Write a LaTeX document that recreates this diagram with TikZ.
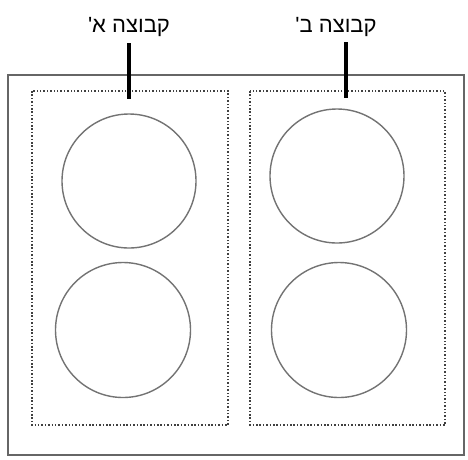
\documentclass[tikz,border=0pt]{standalone}
\usepackage{fontspec}
\TeXXeTstate=1
\newfontfamily\hebfont[Script=Hebrew]{Liberation Sans}
\begin{document}
\begin{tikzpicture}[x=1pt,y=-1pt,
  frame/.style={draw=gray!80!black,line width=1.4pt},
  groupbox/.style={draw=gray!50!black,line width=2pt,dash pattern=on 1.5pt off 1.9pt},
  disc/.style={draw=gray!90!black,line width=1.4pt},
  grouplabel/.style={font=\hebfont\fontsize{22}{26}\selectfont,inner sep=0pt,anchor=base},
  pointer/.style={line width=3.8pt,black}]
\useasboundingbox (0,0) rectangle (468,459);
\draw[frame] (8,75) rectangle (464,455);
\draw[groupbox] (32,91) rectangle (228,425);
\draw[groupbox] (250,91) rectangle (445,425);
\node[disc,circle,minimum size=134pt,inner sep=0pt] (a1) at (129,181) {};
\node[disc,circle,minimum size=135pt,inner sep=0pt] (a2) at (123,330) {};
\node[disc,circle,minimum size=134pt,inner sep=0pt] (b1) at (337,176) {};
\node[disc,circle,minimum size=135pt,inner sep=0pt] (b2) at (339,330) {};
\node[grouplabel] (labelA) at (129,32) {\beginR קבוצה א'\endR};
\node[grouplabel] (labelB) at (336,32) {\beginR קבוצה ב'\endR};
\coordinate (topA) at (129,43);
\coordinate (endA) at (129,99);
\coordinate (topB) at (346,42);
\coordinate (endB) at (346,98);
\draw[pointer] (topA) -- (endA);
\draw[pointer] (topB) -- (endB);
\end{tikzpicture}
\end{document}
